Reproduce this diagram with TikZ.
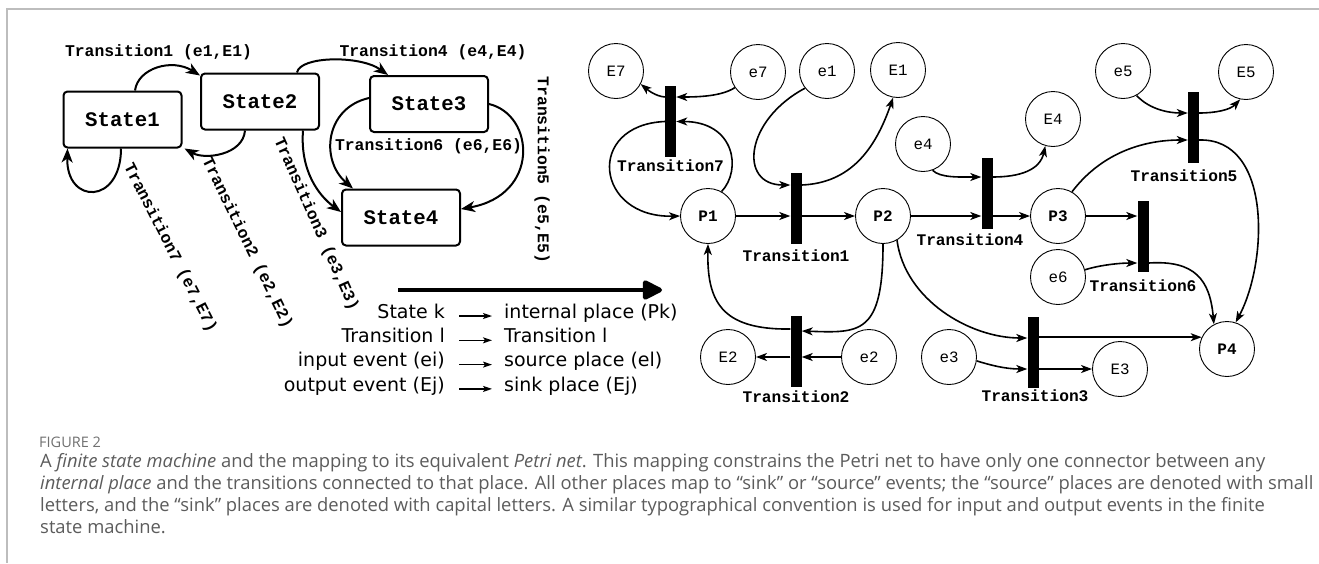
\documentclass[tikz,border=0pt]{standalone}
\usepackage{fontspec}
\usetikzlibrary{arrows.meta,calc}
\newfontfamily\monofam{Liberation Mono}
\newfontfamily\legfam{DejaVu Sans}
\newfontfamily\capfam{Open Sans}
\definecolor{capgray}{HTML}{5C5C5C}
\definecolor{figgray}{HTML}{707070}
\definecolor{framegray}{HTML}{BDBDBD}
\newlength\capw
\newcommand\capone{A \textit{finite state machine} and the mapping to its equivalent \textit{Petri net}. This mapping constrains the Petri net to have only one connector between any}
\newcommand\captwo{\textit{internal place} and the transitions connected to that place. All other places map to “sink” or “source” events; the “source” places are denoted with small}
\newcommand\capthree{letters, and the “sink” places are denoted with capital letters. A similar typographical convention is used for input and output events in the finite}
\newcommand\capfour{state machine.}
\AtBeginDocument{%
  \settowidth\capw{\capfam\fontsize{15.5}{20}\selectfont\capone}%
  \ifdim\capw<10pt \global\capw=1200pt\fi
  \pgfmathsetmacro\capsc{1225/\the\capw}%
  \xdef\capsc{\capsc}}
\begin{document}
\begin{tikzpicture}[x=1pt,y=-1pt,
  fsmstate/.style={draw,line width=2pt,rounded corners=4pt,minimum width=118pt,
    minimum height=56pt,inner sep=0pt,font=\monofam\bfseries\fontsize{20.7}{22}\selectfont},
  fsmlabel/.style={inner sep=0pt,font=\monofam\bfseries\fontsize{16.4}{18}\selectfont},
  fsm/.style={line width=2pt,-{Stealth[length=14pt,width=11pt,inset=4pt]}},
  pplace/.style={circle,draw,line width=0.9pt,minimum size=55pt,inner sep=0pt,
    font=\monofam\fontsize{15.8}{17}\selectfont},
  iplace/.style={pplace,font=\monofam\bfseries\fontsize{16}{17}\selectfont},
  tbar/.style={fill=black,draw=none,minimum width=11pt,minimum height=71pt,inner sep=0pt},
  tlabel/.style={inner sep=0pt,font=\monofam\bfseries\fontsize{16.2}{17}\selectfont},
  pn/.style={line width=1.6pt,-{Stealth[length=11pt,width=8pt,inset=3pt]}},
  legtext/.style={inner sep=0pt,font=\legfam\fontsize{19}{21}\selectfont},
  legarrow/.style={line width=1.3pt,-{Stealth[length=9pt,width=6pt,inset=2pt]}},
  capline/.style={inner sep=0pt,anchor=base west,text=capgray,scale=\capsc,
    font=\capfam\fontsize{15.5}{20}\selectfont}
]
\useasboundingbox (0,0) rectangle (1319,563);
\fill[white] (0,0) rectangle (1319,563);

% frame lines along the top and the left side
\draw[framegray,line width=1.2pt] (1319,9) -- (7,9) -- (7,563);

% ---------- finite state machine ----------
\node[fsmstate] (s1) at (122.5,119.5) {State1};
\node[fsmstate] (s2) at (260,101.5) {State2};
\node[fsmstate] (s3) at (429,104) {State3};
\node[fsmstate] (s4) at (401,217.5) {State4};

\draw[fsm] ([xshift=12.5pt]s1.north) .. controls (138,68) and (172,58) .. ([yshift=-3pt]s2.north west);
\draw[fsm] ([xshift=37pt]s2.north) .. controls (300,56) and (360,55) .. ([xshift=19pt]s3.north west);
\draw[fsm] ([xshift=-15pt]s2.south) .. controls (243,155) and (205,160) .. ([xshift=2pt]s1.south east);
\draw[fsm] ([xshift=-1.5pt]s1.south) .. controls (121,205) and (66,205) .. ([xshift=5pt]s1.south west);
\draw[fsm] ([xshift=43pt]s2.south) .. controls (300,170) and (318,195) .. ([yshift=5.5pt]s4.west);
\draw[fsm] ([yshift=6pt]s3.west) .. controls (325,108) and (320,160) .. ([xshift=12pt]s4.north west);
\draw[fsm] (s3.east) .. controls (535,115) and (540,195) .. ([yshift=8.5pt]s4.east);

\node[fsmlabel] (f1) at (158.5,52) {Transition1 (e1,E1)};
\node[fsmlabel] (f4) at (433,52) {Transition4 (e4,E4)};
\node[fsmlabel] (f6) at (428.5,146) {Transition6 (e6,E6)};
\node[fsmlabel,rotate=-90] (f5) at (542,170) {Transition5 (e5,E5)};
\node[fsmlabel,rotate=-66] (f3) at (316,224) {Transition3 (e3,E3)};
\node[fsmlabel,rotate=-64] (f2) at (247,243) {Transition2 (e2,E2)};
\node[fsmlabel,rotate=-63] (f7) at (170,248) {Transition7 (e7,E7)};

% ---------- mapping legend ----------
\coordinate (g0) at (398,290);
\coordinate (g1) at (662,290);
\draw[line width=4.5pt,-{Triangle[length=22pt,width=21pt,round]}] (g0) -- (g1);

\node[legtext,anchor=mid east] (l1) at (445,316) {State k};
\node[legtext,anchor=mid east] (l2) at (445,340.3) {Transition l};
\node[legtext,anchor=mid east] (l3) at (445,364.6) {input event (ei)};
\node[legtext,anchor=mid east] (l4) at (445,388.9) {output event (Ej)};
\node[legtext,anchor=mid west] (r1) at (504,316) {internal place (Pk)};
\node[legtext,anchor=mid west] (r2) at (504,340.3) {Transition l};
\node[legtext,anchor=mid west] (r3) at (504,364.6) {source place (el)};
\node[legtext,anchor=mid west] (r4) at (504,388.9) {sink place (Ej)};
\foreach \k in {1,2,3,4}
  \draw[legarrow] ([xshift=14pt]l\k.mid east) -- ([xshift=-12pt]r\k.mid west);

% ---------- Petri net ----------
\node[pplace] (E7) at (616,71) {E7};
\node[pplace] (e7) at (758,72) {e7};
\node[pplace] (e1) at (827,71) {e1};
\node[pplace] (E1) at (898,70) {E1};
\node[pplace] (e4) at (923,144) {e4};
\node[pplace] (E4) at (1053,119) {E4};
\node[pplace] (e5) at (1123,71) {e5};
\node[pplace] (E5) at (1246,72) {E5};
\node[iplace] (P1) at (708,216) {P1};
\node[iplace] (P2) at (883,216) {P2};
\node[iplace] (P3) at (1058,216) {P3};
\node[pplace] (e6) at (1058,277) {e6};
\node[iplace] (P4) at (1227,349) {P4};
\node[pplace] (E2) at (728,357) {E2};
\node[pplace] (e2) at (869,357) {e2};
\node[pplace] (e3) at (949,357) {e3};
\node[pplace] (E3) at (1120,369) {E3};

\node[tbar] (T7) at (670.5,121.5) {};
\node[tbar] (T1) at (796,208.5) {};
\node[tbar] (T4) at (987,193.5) {};
\node[tbar] (T5) at (1193.5,127.5) {};
\node[tbar] (T6) at (1143,236.5) {};
\node[tbar] (T2) at (796,351.5) {};
\node[tbar] (T3) at (1033,352.5) {};

\node[tlabel] (L7) at (670.5,166) {Transition7};
\node[tlabel] (L1) at (796,256) {Transition1};
\node[tlabel] (L4) at (970,240) {Transition4};
\node[tlabel] (L5) at (1184,176) {Transition5};
\node[tlabel] (L6) at (1143,286) {Transition6};
\node[tlabel] (L2) at (796,397) {Transition2};
\node[tlabel] (L3) at (1035,396) {Transition3};

% Transition7
\draw[pn] ([yshift=24.5pt]T7.west) .. controls (655,96) and (648,90) .. (E7.-28);
\draw[pn] (e7.214) .. controls (722,96) and (700,97) .. ([yshift=24.5pt]T7.east);
\draw[pn] (P1.61) .. controls (742,170) and (735,121.5) .. (T7.east);
\draw[pn] (T7.west) .. controls (585,125) and (595,218) .. (P1.west);
% Transition1
\draw[pn] (P1.east) -- (P1.east -| T1.west);
\draw[pn] (T1.east |- P2.west) -- (P2.west);
\draw[pn] (e1.218) .. controls (745,120) and (738,185) .. ([yshift=23.5pt]T1.west);
\draw[pn] ([yshift=23.5pt]T1.east) .. controls (850,183) and (875,150) .. (E1.-100);
% Transition4
\draw[pn] (P2.east) -- (P2.east -| T4.west);
\draw[pn] (T4.east |- P3.west) -- (P3.west);
\draw[pn] (e4.-70) .. controls (940,178) and (960,177) .. ([yshift=16.5pt]T4.west);
\draw[pn] ([yshift=16.5pt]T4.east) .. controls (1020,177) and (1040,170) .. (E4.-106);
% Transition5
\draw[pn] (e5.-61) .. controls (1150,110) and (1170,113) .. ([yshift=14.5pt]T5.west);
\draw[pn] ([yshift=14.5pt]T5.east) .. controls (1215,113) and (1230,110) .. (E5.-102);
\draw[pn] (P3.60) .. controls (1100,155) and (1140,140) .. ([yshift=-12.5pt]T5.west);
\draw[pn] ([yshift=-12.5pt]T5.east) .. controls (1272,138) and (1268,262) .. (P4.72);
% Transition6
\draw[pn] (P3.east) -- (P3.east -| T6.west);
\draw[pn] (e6.15) .. controls (1100,265) and (1120,263) .. ([yshift=-26.5pt]T6.west);
\draw[pn] ([yshift=-26.5pt]T6.east) .. controls (1195,260) and (1210,280) .. (P4.118);
% Transition2
\draw[pn] (P2.south) .. controls (883,335) and (860,333) .. ([yshift=20.5pt]T2.east);
\draw[pn] ([yshift=22.5pt]T2.west) .. controls (720,330) and (707,300) .. (P1.south);
\draw[pn] (E2.east -| T2.west) -- (E2.east);
\draw[pn] (e2.west) -- (e2.west -| T2.east);
% Transition3
\draw[pn] (P2.-60) .. controls (905,300) and (970,338) .. ([yshift=14.5pt]T3.west);
\draw[pn] (P4.155 -| T3.east) -- (P4.155);
\draw[pn] (e3.-8) .. controls (990,365) and (1005,369) .. ([yshift=-16.5pt]T3.west);
\draw[pn] (T3.east |- E3.west) -- (E3.west);

% ---------- caption ----------
\node[inner sep=0pt,anchor=base west,text=figgray,font=\capfam\fontsize{14.5}{17}\selectfont] (fig) at (39,447) {FIGURE 2};
\node[capline] (c1) at (40,467) {\capone};
\node[capline] (c2) at (40,489) {\captwo};
\node[capline] (c3) at (40,511) {\capthree};
\node[capline] (c4) at (40,533) {\capfour};
\end{tikzpicture}
\end{document}
